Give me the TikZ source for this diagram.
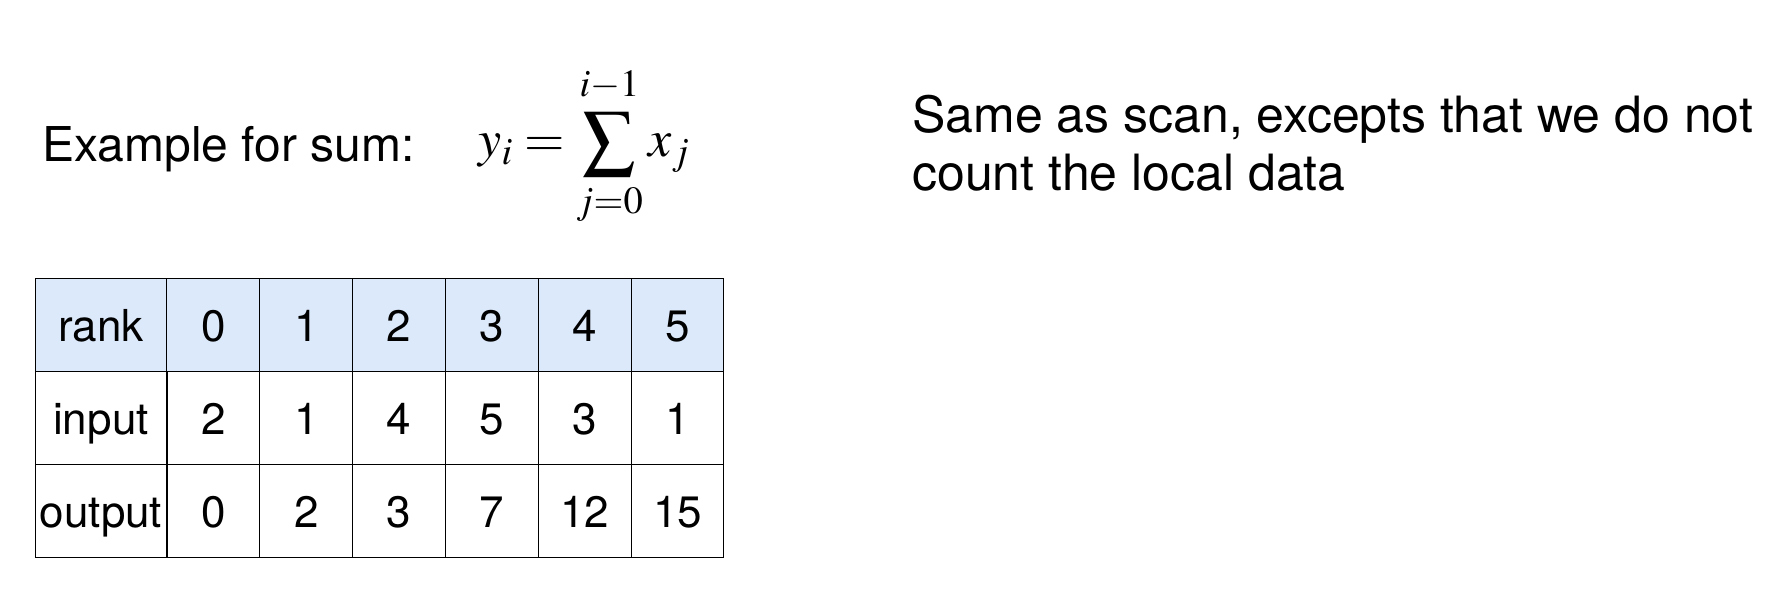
\documentclass[tikz,border=0pt]{standalone}
\usepackage{mathptmx}
\usepackage[no-math]{fontspec}
\setmainfont{TeX Gyre Heros}
\definecolor{headblue}{RGB}{220,233,250}
\begin{document}
\begin{tikzpicture}[x=1pt,y=1pt,
  cell/.style={draw,line width=1pt,minimum height=93pt,inner sep=0pt,
    text height=31.5pt,text depth=0pt,font=\fontsize{44}{50}\selectfont},
  namecol/.style={cell,minimum width=132pt},
  numcol/.style={cell,minimum width=92.83pt},
  bigtext/.style={inner sep=0pt,font=\fontsize{48}{58}\selectfont}]
\useasboundingbox (0,0) rectangle (1766,602);
\node[bigtext,anchor=base west] (title) at (42,440) {Example for sum:};
\node[inner sep=0pt,anchor=base,font=\fontsize{52}{62}\selectfont] (formula) at (584,445)
  {$\displaystyle y_i=\sum_{\mathstrut j=0}^{i-1\mathstrut}x_j$};
\node[bigtext,anchor=base west,font=\fontsize{50}{60}\selectfont] (descA) at (912,469) {Same as scan, excepts that we do not};
\node[bigtext,anchor=base west,font=\fontsize{50}{60}\selectfont] (descB) at (912,411) {count the local data};
% table
\node[namecol,fill=headblue] (R) at (101,276.5) {rank};
\node[namecol] (I) at (101,183.5) {input};
\node[namecol] (O) at (101,90.5) {output};
\foreach \a/\b [count=\k from 0] in {2/0,1/2,4/3,5/7,3/12,1/15}
{
  \node[numcol,fill=headblue] (R\k) at (213.4+92.83*\k,276.5) {\k};
  \node[numcol] (I\k) at (213.4+92.83*\k,183.5) {\a};
  \node[numcol] (O\k) at (213.4+92.83*\k,90.5) {\b};
}
\end{tikzpicture}
\end{document}
